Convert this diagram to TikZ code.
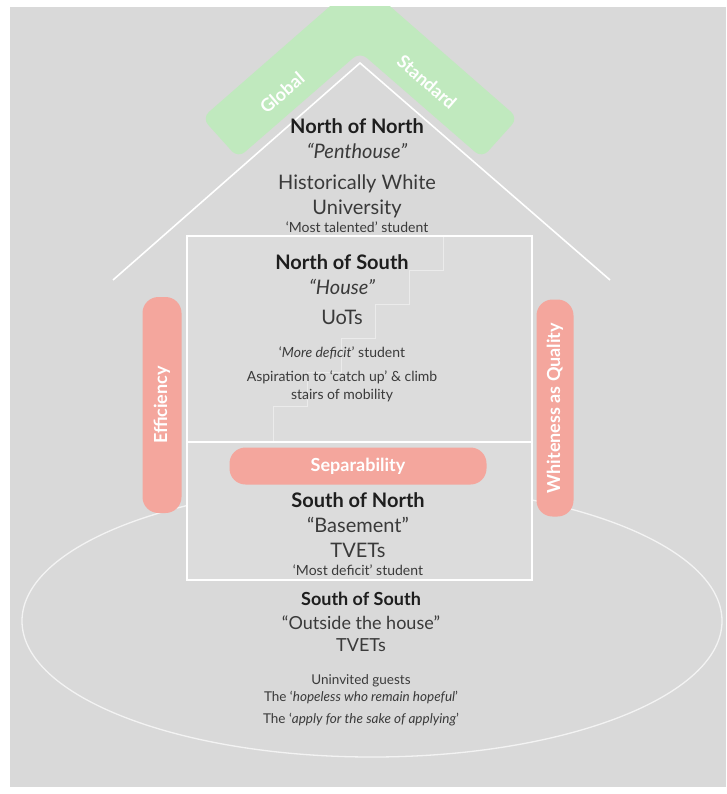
\documentclass[tikz,border=0pt]{standalone}
\usepackage{fontspec}
\setmainfont{Lato}
\usepackage{tikz}
\usetikzlibrary{positioning}
\definecolor{Panel}{HTML}{D9D9D9}
\definecolor{Room}{HTML}{DCDCDC}
\definecolor{Leaf}{HTML}{C0E9BE}
\definecolor{Salmon}{HTML}{F4A69D}
\definecolor{Ink}{HTML}{1E1E1E}
\definecolor{Slate}{HTML}{3A3A3A}

\begin{document}
\begin{tikzpicture}[
  x=1pt,y=-1pt,
  label/.style={text=Slate,align=center,inner sep=0pt,anchor=north,font=\fontsize{20}{25}\selectfont},
  pill/.style={fill=Salmon,rounded corners=16pt,text=white,inner sep=0pt,font=\bfseries\fontsize{18}{20}\selectfont},
  bandtext/.style={text=white,inner sep=0pt,font=\bfseries\fontsize{18}{20}\selectfont},
  wall/.style={draw=white,line width=1.6pt},
  faint/.style={draw=white,opacity=.45,line width=1pt}
]
  \fill[white] (0,0) rectangle (726,794);
  \useasboundingbox (0,0) rectangle (726,794);
  \fill[Panel] (10,7) rectangle (726,787);
  % roof band
  \begin{scope}
    \clip (10,7) rectangle (726,787);
    \fill[Leaf,rounded corners=9pt] (238,158) -- (202,118) -- (360,-20) -- (518,118) -- (482,158) -- (360,52) -- cycle;
  \end{scope}
  \node[bandtext,rotate=41] (global) at (282,93) {Global};
  \node[bandtext,rotate=-41] (standard) at (427,82) {Standard};
  \draw[wall] (113,280) -- (360,63) -- (610,280);
  % ground
  \draw[faint,opacity=.7,line width=1.3pt] (372,621) ellipse [x radius=350pt,y radius=136pt];
  \node[pill,rotate=90,minimum width=216pt,minimum height=39pt] (efficiency) at (162,405) {Efficiency};
  \node[pill,rotate=90,minimum width=217pt,minimum height=37pt] (whiteness) at (555,408) {Whiteness as Quality};
  % house
  \draw[wall,fill=Room] (187,236) rectangle (532,580);
  \draw[faint] (443,236) \foreach \k in {1,...,5} { -- ++(0,34) -- ++(-34,0) } -- (273,442);
  \draw[wall] (187,442) -- (532,442);
  \node[pill,minimum width=257pt,minimum height=37pt] (separability) at (358,466) {Separability};

  \node[label] (penthouse) at (357,118) {{\bfseries\color{Ink}North of North}\\[0.5pt]
    {\itshape “Penthouse”}\\[5.5pt] Historically White\\ University\\[-7pt]
    {\fontsize{14}{18}\selectfont ‘Most talented’ student}};
  \node[label] (house) at (342,254) {{\bfseries\color{Ink}North of South}\\[0.5pt]
    {\itshape “House”}\\[4.5pt] UoTs\\[8.5pt]
    {\fontsize{14}{18}\selectfont ‘\textit{More deficit}’ student}\\[-1.5pt]
    {\fontsize{14}{18}\selectfont Aspiration to ‘catch up’ \& climb}\\[-7pt]
    {\fontsize{14}{18}\selectfont stairs of mobility}};
  \node[label] (basement) at (358,492) {{\bfseries\color{Ink}South of North}\\[0.5pt]
    “Basement”\\[-0.5pt] TVETs\\[-7pt]
    {\fontsize{14}{18}\selectfont ‘Most deficit’ student}};
  \node[label,font=\fontsize{18}{24}\selectfont] (outside) at (361,591.5) {{\bfseries\color{Ink}South of South}\\
    “Outside the house”\\[-2pt] TVETs\\[9pt]
    {\fontsize{13.5}{18}\selectfont Uninvited guests}\\[-7pt]
    {\fontsize{13.5}{18}\selectfont The ‘\textit{hopeless who remain hopeful}’}\\[-2pt]
    {\fontsize{13.5}{18}\selectfont The ‘\textit{apply for the sake of applying}’}};
\end{tikzpicture}
\end{document}
